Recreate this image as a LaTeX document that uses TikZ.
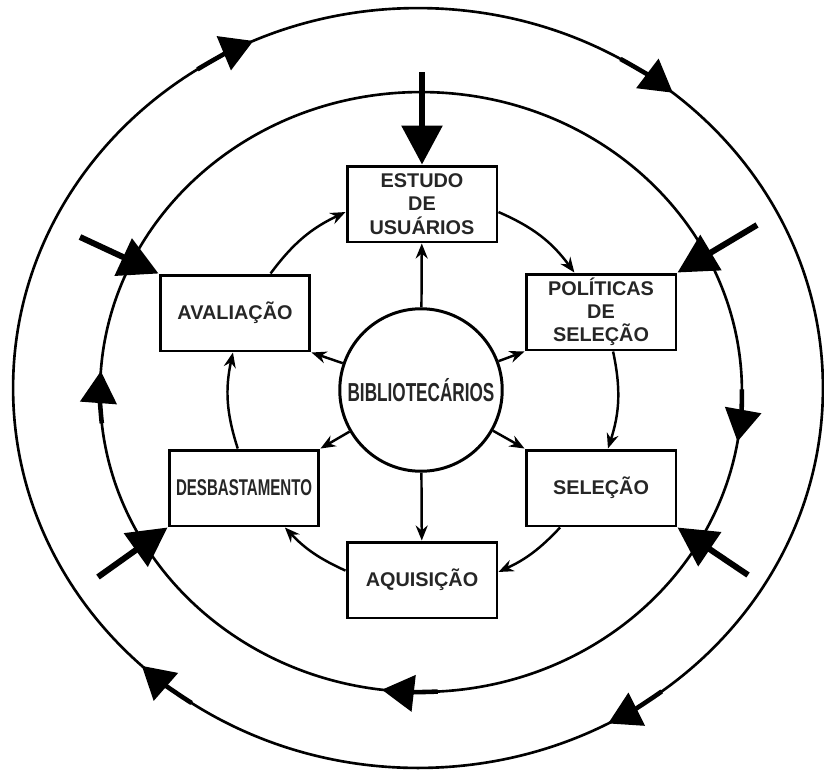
\documentclass[tikz,border=0pt]{standalone}
\usepackage{fontspec}
\setmainfont{Liberation Sans}
\newfontfamily\narrowfont{Liberation Sans}[FakeStretch=0.66]
\usetikzlibrary{arrows.meta}

\begin{document}
\begin{tikzpicture}[
    x=0.02cm, y=-0.02cm,
    box/.style={draw, line width=1.7pt, minimum width=3cm, minimum height=1.52cm,
        inner sep=0pt, align=center, text=black!85,
        font=\fontsize{11.3}{13.2}\selectfont\bfseries},
    hub/.style={draw, circle, line width=1.7pt, minimum size=3.25cm, inner sep=0pt,
        text=black!85, font=\fontsize{14.8}{16}\selectfont\narrowfont\bfseries},
    ring/.style={line width=1.5pt},
    flow/.style={-{Stealth[length=0.3cm, width=0.24cm]}, line width=1.4pt},
    feed/.style={-{Triangle[length=0.78cm, width=0.8cm]}, line width=3.4pt},
    ringtip/.style={-{Triangle[length=0.64cm, width=0.72cm]}, line width=2.6pt}
]
    \useasboundingbox (0,0) rectangle (824,774);

    % rings
    \coordinate (outerc) at (418,388);
    \coordinate (innerc) at (421,392);
    \draw[ring] (outerc) ellipse [x radius=8.1cm, y radius=7.6cm];
    \draw[ring] (innerc) ellipse [x radius=6.42cm, y radius=6cm];

    % ring arrows (clockwise)
    \draw[ringtip] (outerc) ++(123:8.1cm and 7.6cm) arc[start angle=123, end angle=114, x radius=8.1cm, y radius=7.6cm];
    \draw[ringtip] (outerc) ++(60:8.1cm and 7.6cm) arc[start angle=60, end angle=51, x radius=8.1cm, y radius=7.6cm];
    \draw[ringtip] (outerc) ++(-53:8.1cm and 7.6cm) arc[start angle=-53, end angle=-62, x radius=8.1cm, y radius=7.6cm];
    \draw[ringtip] (outerc) ++(236:8.1cm and 7.6cm) arc[start angle=236, end angle=227, x radius=8.1cm, y radius=7.6cm];
    \draw[ringtip] (innerc) ++(186:6.42cm and 6cm) arc[start angle=186, end angle=176, x radius=6.42cm, y radius=6cm];
    \draw[ringtip] (innerc) ++(0.5:6.42cm and 6cm) arc[start angle=0.5, end angle=-9.5, x radius=6.42cm, y radius=6cm];
    \draw[ringtip] (innerc) ++(273:6.42cm and 6cm) arc[start angle=273, end angle=263, x radius=6.42cm, y radius=6cm];

    % nodes
    \node[hub] (hub) at (421,390) {BIBLIOTECÁRIOS};
    \node[box] (estudo) at (422,204) {ESTUDO\\DE\\USUÁRIOS};
    \node[box] (politicas) at (601,312) {POLÍTICAS\\DE\\SELEÇÃO};
    \node[box] (selecao) at (601,488) {SELEÇÃO};
    \node[box] (aquisicao) at (422,580) {AQUISIÇÃO};
    \node[box, font=\fontsize{13}{15}\selectfont\narrowfont\bfseries] (desbaste) at (244,488) {DESBASTAMENTO};
    \node[box] (avaliacao) at (235,313) {AVALIAÇÃO};

    % from the hub
    \draw[flow] (hub) -- (estudo);
    \draw[flow] (hub) -- (aquisicao);
    \draw[flow] (hub) -- (politicas.south west);
    \draw[flow] (hub) -- (selecao.north west);
    \draw[flow] (hub) -- (desbaste.north east);
    \draw[flow] (hub) -- (avaliacao.south east);

    % cycle
    \draw[flow] (estudo.-6) to[bend left=15] (politicas.124);
    \draw[flow] (politicas.-73) to[bend left=15] (selecao.80);
    \draw[flow] (selecao.-136) to[bend left=11] (aquisicao.6);
    \draw[flow] (aquisicao.173) to[bend left=11] (desbaste.-44);
    \draw[flow] (desbaste.99) to[bend left=15] (avaliacao.-93);
    \draw[flow] (avaliacao.48) to[bend left=14] (estudo.186);

    % inputs from outside
    \coordinate (topin) at (422,72);
    \coordinate (nwin) at (80,237);
    \coordinate (nein) at (757,225);
    \coordinate (sein) at (748,575);
    \coordinate (swin) at (98,577);
    \draw[feed] (topin) -- (estudo.north);
    \draw[feed] (nwin) -- (avaliacao.north west);
    \draw[feed] (nein) -- (politicas.north east);
    \draw[feed] (sein) -- (selecao.south east);
    \draw[feed] (swin) -- (desbaste.south west);
\end{tikzpicture}
\end{document}
